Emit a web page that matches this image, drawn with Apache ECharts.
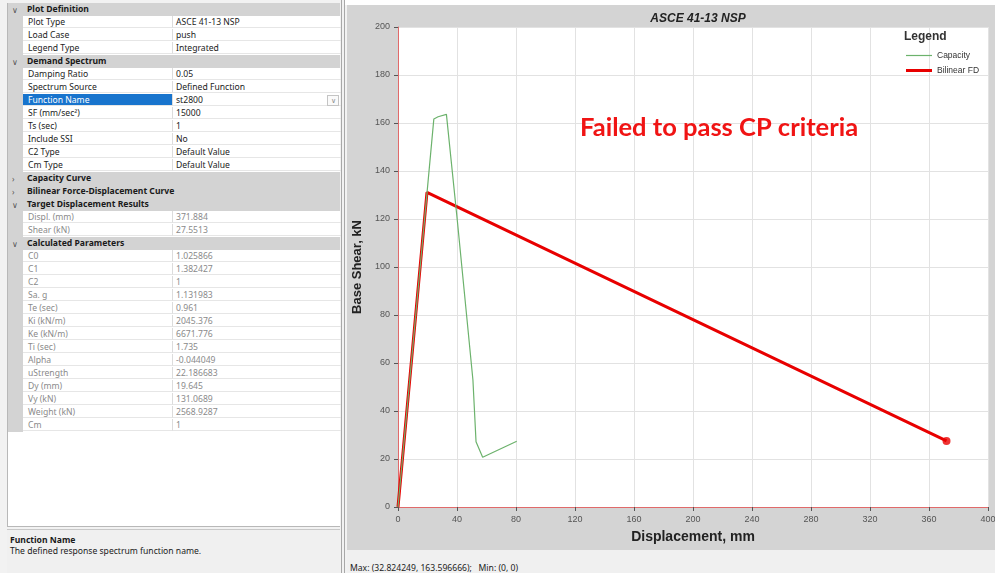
<!DOCTYPE html>
<html>
<head>
<meta charset="utf-8">
<script src="https://cdn.jsdelivr.net/npm/echarts@6/dist/echarts.min.js"></script>
<style>
  html, body { margin: 0; padding: 0; }
  body { width: 995px; height: 573px; overflow: hidden; background: #f2f2f2; position: relative;
         font-family: "Noto Sans", "Liberation Sans", sans-serif; }
  #grid { position: absolute; left: 7px; top: 3px; width: 333px; height: 524px; background: #fff;
          border-left: 1px solid #b8b8b8; border-bottom: 1px solid #b8b8b8; box-sizing: border-box; }
  .row { position: relative; height: 13px; font-size: 8.6px; line-height: 13px; white-space: nowrap; }
  .gut { position: absolute; left: 0; top: 0; width: 15px; height: 13px; background: #d3d3d3; }
  .hdr { background: #d3d3d3; font-weight: bold; color: #1a1a1a; }
  .hdr .chev { position: absolute; left: 4px; top: 0; color: #555; font-weight: normal; font-size: 8px; }
  .hdr .ttl { position: absolute; left: 19px; top: 0; }
  .lab { position: absolute; left: 15px; top: 0; width: 150px; height: 12px; padding-left: 5px; box-sizing: border-box;
         border-bottom: 1px solid #e6e6e6; border-right: 1px solid #dcdcdc; color: #222; }
  .val { position: absolute; left: 165px; top: 0; width: 168px; height: 12px; padding-left: 3px; box-sizing: border-box;
         border-bottom: 1px solid #e6e6e6; color: #222; }
  .ro .lab, .ro .val { color: #8a8a8a; }
  .sel .lab { background: #1874cd; color: #fff; }
  .drop { position: absolute; right: 2px; top: 1px; width: 10px; height: 9px; border: 1px solid #c4c4c4;
          font-size: 7px; line-height: 9px; text-align: center; color: #888; background: #fafafa; }
  #desc { position: absolute; left: 7px; top: 529px; width: 333px; height: 44px; background: #f0f0f0;
          border-top: 1px solid #c8c8c8; font-size: 8.6px; color: #1a1a1a; }
  #desc b { position: absolute; left: 3px; top: 4px; }
  #desc span { position: absolute; left: 3px; top: 15px; }
  #split1 { position: absolute; left: 341px; top: 0; width: 1px; height: 573px; background: #a8a8a8; }
  #split2 { position: absolute; left: 344px; top: 0; width: 1px; height: 573px; background: #a8a8a8; }
  #topband { position: absolute; left: 345px; top: 0; width: 650px; height: 5px; background: #fff; }
  #chart { position: absolute; left: 347px; top: 5px; width: 648px; height: 545px; background: #d4d4d4; }
  #status { position: absolute; left: 347px; top: 550px; width: 648px; height: 23px; background: #f0f0f0;
            font-size: 8.6px; color: #222; }
  #status span { position: absolute; left: 3px; top: 12px; }
</style>
</head>
<body>
<div id="grid"></div>
<div id="desc"><b>Function Name</b><span>The defined response spectrum function name.</span></div>
<div id="split1"></div><div id="split2"></div>
<div id="topband"></div>
<div id="chart"></div>
<div id="status"><span>Max: (32.824249, 163.596666);&nbsp;&nbsp; Min: (0, 0)</span></div>
<script>
// ---- property grid contents ----
const plotDefinition = [['Plot Type', 'ASCE 41-13 NSP'], ['Load Case', 'push'], ['Legend Type', 'Integrated']];
const demandSpectrum = [['Damping Ratio', '0.05'], ['Spectrum Source', 'Defined Function'], ['Function Name', 'st2800'],
  ['SF (mm/sec\u00b2)', '15000'], ['Ts (sec)', '1'], ['Include SSI', 'No'], ['C2 Type', 'Default Value'], ['Cm Type', 'Default Value']];
const targetResults = [['Displ. (mm)', '371.884'], ['Shear (kN)', '27.5513']];
const calculatedParams = [['C0', '1.025866'], ['C1', '1.382427'], ['C2', '1'], ['Sa. g', '1.131983'], ['Te (sec)', '0.961'],
  ['Ki (kN/m)', '2045.376'], ['Ke (kN/m)', '6671.776'], ['Ti (sec)', '1.735'], ['Alpha', '-0.044049'],
  ['uStrength', '22.186683'], ['Dy (mm)', '19.645'], ['Vy (kN)', '131.0689'], ['Weight (kN)', '2568.9287'], ['Cm', '1']];
const selectedProperty = 'Function Name';

// ---- chart data ----
const capacityDispl = [0, 24.3, 27.2, 32.824249, 40.2, 50.8, 52.9, 57.4, 80.5];
const capacityShear = [0, 161.7, 162.6, 163.596666, 119.5, 52.9, 27.2, 20.7, 27.4];
const bilinearDispl = [0, 19.645, 371.884];
const bilinearShear = [0, 131.0689, 27.5513];
const targetPoint = [371.884, 27.5513];
const xTicks = { min: 0, max: 400, step: 40 };
const yTicks = { min: 0, max: 200, step: 20 };

// build the property grid
const gridEl = document.getElementById('grid');
function header(title, open) {
  const r = document.createElement('div');
  r.className = 'row hdr';
  r.innerHTML = '<span class="chev">' + (open ? '\u2228' : '\u203a') + '</span><span class="ttl">' + title + '</span>';
  gridEl.appendChild(r);
}
function rows(list, readOnly) {
  list.forEach(([k, v]) => {
    const r = document.createElement('div');
    r.className = 'row' + (readOnly ? ' ro' : '') + (k === selectedProperty ? ' sel' : '');
    r.innerHTML = '<div class="gut"></div><div class="lab">' + k + '</div><div class="val">' + v +
      (k === selectedProperty ? '<div class="drop">\u2228</div>' : '') + '</div>';
    gridEl.appendChild(r);
  });
}
header('Plot Definition', true); rows(plotDefinition, false);
header('Demand Spectrum', true); rows(demandSpectrum, false);
header('Capacity Curve', false);
header('Bilinear Force-Displacement Curve', false);
header('Target Displacement Results', true); rows(targetResults, true);
header('Calculated Parameters', true); rows(calculatedParams, true);

// ---- chart ----
const chart = echarts.init(document.getElementById('chart'));
const zip = (xs, ys) => xs.map((x, i) => [x, ys[i]]);
const tickFont = { color: '#555', fontSize: 9, fontFamily: 'Liberation Sans' };
const legendText = { fontSize: 8.5, color: '#333', fontFamily: 'Liberation Sans' };
const capColor = '#6cb26c';
const bilColor = '#e80000';
chart.setOption({
  animation: false,
  backgroundColor: '#d4d4d4',
  grid: { left: 51, top: 22, width: 590, height: 480, show: true, backgroundColor: '#fff', borderWidth: 0,
          outerBoundsMode: 'none' },
  title: {
    text: 'ASCE 41-13 NSP', left: 346, top: 3, textAlign: 'center',
    textStyle: { fontSize: 12, fontWeight: 'bold', fontStyle: 'italic', color: '#222', fontFamily: 'Liberation Sans' }
  },
  legend: [
    { orient: 'vertical', left: 554, top: 41, itemWidth: 26, itemHeight: 1.2, icon: 'rect',
      textStyle: legendText, data: [{ name: 'Capacity', itemStyle: { color: capColor } }] },
    { orient: 'vertical', left: 554, top: 56, itemWidth: 26, itemHeight: 3, icon: 'rect',
      textStyle: legendText, data: [{ name: 'Bilinear FD', itemStyle: { color: bilColor } }] }
  ],
  xAxis: {
    type: 'value', min: xTicks.min, max: xTicks.max, interval: xTicks.step,
    name: 'Displacement, mm', nameLocation: 'middle', nameGap: 23,
    nameTextStyle: { fontSize: 14, fontWeight: 'bold', color: '#222', fontFamily: 'Liberation Sans' },
    axisLine: { show: true, lineStyle: { color: '#e06a6a', width: 1 } },
    axisTick: { show: true, length: 4, lineStyle: { color: '#555' } },
    axisLabel: Object.assign({ margin: 8 }, tickFont),
    splitLine: { show: true, lineStyle: { color: '#e2e2e2' } }
  },
  yAxis: {
    type: 'value', min: yTicks.min, max: yTicks.max, interval: yTicks.step,
    name: 'Base Shear, kN', nameLocation: 'middle', nameGap: 32,
    nameTextStyle: { fontSize: 13, fontWeight: 'bold', color: '#222', fontFamily: 'Liberation Sans' },
    axisLine: { show: true, lineStyle: { color: '#e06a6a', width: 1 } },
    axisTick: { show: true, length: 4, lineStyle: { color: '#555' } },
    axisLabel: Object.assign({ margin: 8 }, tickFont),
    splitLine: { show: true, lineStyle: { color: '#e2e2e2' } }
  },
  graphic: [
    { type: 'text', left: 557, top: 26, z: 100,
      style: { text: 'Legend', fontSize: 12, fontWeight: 'bold', fill: '#333', fontFamily: 'Liberation Sans' } },
    { type: 'text', left: 233, top: 110, z: 100,
      style: { text: 'Failed to pass CP criteria', fontSize: 25.5, fontWeight: 'bold', fill: '#f01414', fontFamily: 'Lato' } }
  ],
  series: [
    { name: 'Capacity', type: 'line', data: zip(capacityDispl, capacityShear), symbol: 'none',
      lineStyle: { color: capColor, width: 1.2 }, itemStyle: { color: capColor }, z: 3 },
    { name: 'Bilinear FD', type: 'line', data: zip(bilinearDispl, bilinearShear), symbol: 'none',
      lineStyle: { color: bilColor, width: 3 }, itemStyle: { color: bilColor }, z: 2 },
    { name: 'Target', type: 'scatter', data: [targetPoint], symbolSize: 8,
      itemStyle: { color: bilColor }, z: 4 }
  ]
});
</script>
</body>
</html>
